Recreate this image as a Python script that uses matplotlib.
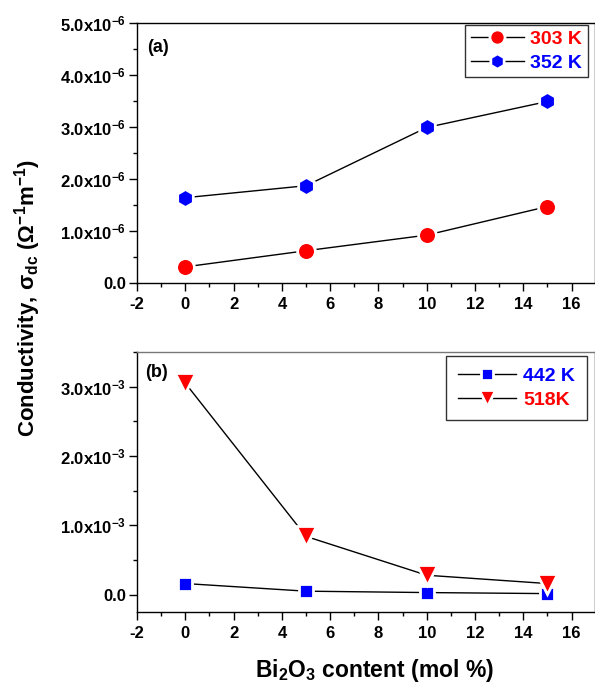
"""Dc conductivity vs Bi2O3 content, two temperature panels."""

import matplotlib
matplotlib.use("Agg")
import matplotlib.pyplot as plt
from matplotlib.ticker import FuncFormatter, MultipleLocator

plt.rcParams["font.family"] = ["Liberation Sans", "DejaVu Sans"]
plt.rcParams["font.weight"] = "bold"
plt.rcParams["axes.unicode_minus"] = False
plt.rcParams["mathtext.fontset"] = "custom"
plt.rcParams["mathtext.rm"] = "Liberation Sans:bold"
plt.rcParams["mathtext.it"] = "Liberation Sans:bold"
plt.rcParams["mathtext.bf"] = "Liberation Sans:bold"

# data
bi2o3_mol = [0, 5, 10, 15]
sigma_303k = [0.31e-6, 0.62e-6, 0.92e-6, 1.47e-6]
sigma_352k = [1.64e-6, 1.87e-6, 2.99e-6, 3.49e-6]
sigma_442k = [0.16e-3, 0.05e-3, 0.03e-3, 0.015e-3]
sigma_518k = [3.05e-3, 0.84e-3, 0.28e-3, 0.16e-3]

x_ticks = [-2, 0, 2, 4, 6, 8, 10, 12, 14, 16]

RED = "#ff0000"
BLUE = "#0000ff"


def sci_label(exp):
    def fmt(v, pos):
        if abs(v) < 1e-15:
            return "0.0"
        return f"{v / 10**exp:.1f}x10$^{{{exp}}}$"
    return fmt


def style_axes(ax):
    ax.set_xlim(-2, 16.97)
    ax.set_xticks(x_ticks)
    ax.xaxis.set_minor_locator(MultipleLocator(1))
    ax.tick_params(which="both", direction="out", top=False, right=False,
                   labelsize=12, width=1)
    ax.tick_params(which="major", length=6)
    ax.tick_params(which="minor", length=3)
    ax.tick_params(axis="x", pad=4)
    ax.tick_params(axis="y", pad=2)
    for lab in ax.get_xticklabels() + ax.get_yticklabels():
        lab.set_fontweight("bold")
    for sp in ax.spines.values():
        sp.set_linewidth(1)


def series(ax, y, marker, ms, color, label):
    ax.plot(bi2o3_mol, y, color="black", lw=1, marker=marker, ms=ms,
            mfc=color, mec="white", mew=2, label=label)


def legend(ax, colors, anchor, pad, hlen):
    leg = ax.legend(loc="upper right", bbox_to_anchor=anchor,
                    borderaxespad=0, fancybox=False, edgecolor="black",
                    fontsize=14, handlelength=hlen, numpoints=1,
                    markerscale=0.85, borderpad=pad, labelspacing=0.3,
                    handletextpad=0.35, labelcolor=colors)
    leg.get_frame().set_linewidth(1)
    for t in leg.get_texts():
        t.set_fontweight("bold")
    return leg


fig = plt.figure(figsize=(5.95, 6.85), dpi=100)
ax_a = fig.add_axes([0.2303, 0.5869, 0.7697, 0.3796])
ax_b = fig.add_axes([0.2303, 0.1066, 0.7697, 0.3796])

# panel (a)
series(ax_a, sigma_303k, "o", 12.8, RED, "303 K")
series(ax_a, sigma_352k, "h", 13, BLUE, "352 K")
ax_a.set_ylim(0, 5e-6)
ax_a.yaxis.set_major_locator(MultipleLocator(1e-6))
ax_a.yaxis.set_minor_locator(MultipleLocator(0.5e-6))
ax_a.yaxis.set_major_formatter(FuncFormatter(sci_label(-6)))
style_axes(ax_a)
ax_a.text(0.022, 0.905, "(a)", transform=ax_a.transAxes, fontsize=13,
          fontweight="bold", va="center")
legend(ax_a, [RED, BLUE], (0.985, 0.993), 0.3, 2.7)

# panel (b)
series(ax_b, sigma_442k, "s", 10.6, BLUE, "442 K")
series(ax_b, sigma_518k, "v", 14, RED, "518K")
ax_b.set_ylim(-0.25e-3, 3.5e-3)
ax_b.yaxis.set_major_locator(MultipleLocator(1e-3))
ax_b.yaxis.set_minor_locator(MultipleLocator(0.5e-3))
ax_b.yaxis.set_major_formatter(FuncFormatter(sci_label(-3)))
style_axes(ax_b)
ax_b.spines["top"].set_color("#777777")
ax_b.text(0.017, 0.92, "(b)", transform=ax_b.transAxes, fontsize=13,
          fontweight="bold", va="center")
legend(ax_b, [BLUE, RED], (0.982, 0.985), 0.6, 3.0)

fig.text(0.047, 0.565,
         "Conductivity, σ$_{dc}$ (Ω$^{-1}$m$^{-1}$)",
         rotation=90, fontsize=16, fontweight="bold",
         ha="center", va="center")
fig.text(0.63, 0.0117, "Bi$_2$O$_3$ content (mol %)", fontsize=16.5,
         fontweight="bold", ha="center", va="baseline")

fig.savefig("out.png", dpi=100)
